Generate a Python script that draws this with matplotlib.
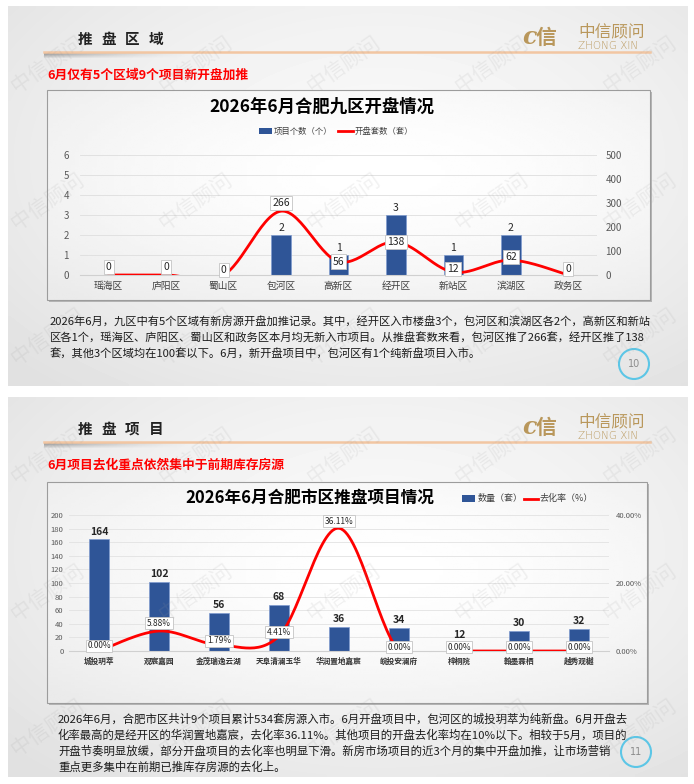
import numpy as np
import matplotlib.pyplot as plt
from matplotlib.patches import Rectangle, Circle

plt.rcParams['font.family'] = ['Noto Sans CJK SC', 'DejaVu Sans']

W, H = 694, 784

# slide 10: districts
districts = ['瑶海区', '庐阳区', '蜀山区', '包河区', '高新区', '经开区', '新站区', '滨湖区', '政务区']
district_projects = [0, 0, 0, 2, 1, 3, 1, 2, 0]
district_units = [0, 0, 0, 266, 56, 138, 12, 62, 0]

# slide 11: projects
projects = ['城投玥萃', '观宸嘉园', '金茂瑞逸云湖', '天阜清澜玉华', '华润置地嘉宸',
            '皖投安澜府', '梓桐院', '翰墨霖栖', '越秀观樾']
project_units = [164, 102, 56, 68, 36, 34, 12, 30, 32]
project_rates = [0.00, 5.88, 1.79, 4.41, 36.11, 0.00, 0.00, 0.00, 0.00]

para1 = [
    "2026年6月，九区中有5个区域有新房源开盘加推记录。其中，经开区入市楼盘3个，包河区和滨湖区各2个，高新区和新站",
    "区各1个，瑶海区、庐阳区、蜀山区和政务区本月均无新入市项目。从推盘套数来看，包河区推了266套，经开区推了138",
    "套，其他3个区域均在100套以下。6月，新开盘项目中，包河区有1个纯新盘项目入市。",
]
para2 = [
    "2026年6月，合肥市区共计9个项目累计534套房源入市。6月开盘项目中，包河区的城投玥萃为纯新盘。6月开盘去",
    "化率最高的是经开区的华润置地嘉宸，去化率36.11%。其他项目的开盘去化率均在10%以下。相较于5月，项目的",
    "开盘节奏明显放缓，部分开盘项目的去化率也明显下滑。新房市场项目的近3个月的集中开盘加推，让市场营销",
    "重点更多集中在前期已推库存房源的去化上。",
]

BLUE = '#2f5597'
RED = '#ff0000'
GOLD = '#b9975b'


def px_box(x0, y0, x1, y1):
    return [x0 / W, 1 - y1 / H, (x1 - x0) / W, (y1 - y0) / H]


def smooth(xs, ys, n=30):
    # bezier smoothing, same idea as excel's "smoothed line"
    p = np.column_stack([xs, ys]).astype(float)
    p = np.vstack([p[0], p, p[-1]])
    t = np.linspace(0, 1, n)[:, None]
    out = []
    for i in range(1, len(p) - 2):
        a, b = p[i], p[i + 1]
        c1 = a + (p[i + 1] - p[i - 1]) / 6
        c2 = b - (p[i + 2] - p[i]) / 6
        seg = (1 - t) ** 3 * a + 3 * (1 - t) ** 2 * t * c1 + 3 * (1 - t) * t ** 2 * c2 + t ** 3 * b
        out.append(seg if i == 1 else seg[1:])
    out = np.vstack(out)
    return out[:, 0], out[:, 1]


def gray_panel(ax, x0, y0, x1, y1, lo, hi, z=0):
    yy, xx = np.mgrid[0:1:80j, 0:1:140j]
    d = np.sqrt(((xx - 0.55) / 0.75) ** 2 + ((yy - 0.4) / 0.8) ** 2)
    v = hi - (hi - lo) * np.clip(d, 0, 1) ** 1.6
    ax.imshow(v, cmap='gray', vmin=0, vmax=1, extent=(x0, x1, y1, y0),
              aspect='auto', zorder=z, interpolation='bilinear')


def header(ax, top, title, subtitle):
    for k, ch in enumerate(title):
        ax.text(78 + k * 23.5, top + 33, ch, fontsize=10.5, fontweight='bold',
                color='#222222', va='center')
    ax.plot([44, 650], [top + 46, top + 46], color='#f2c6a2', lw=1.8, zorder=2)
    sh = np.zeros((6, 120, 4))
    fx = np.linspace(1, 0, 120) ** 1.5
    fy = np.linspace(1, 0, 6)[:, None]
    sh[..., 3] = 0.35 * fx * fy
    ax.imshow(sh, extent=(44, 200, top + 53, top + 47), aspect='auto', zorder=1)
    ax.text(522, top + 31, 'c', fontsize=17, fontstyle='italic', fontweight='bold',
            color=GOLD, va='center', family='DejaVu Serif')
    ax.text(536, top + 31, '信', fontsize=15, fontweight='bold', color=GOLD, va='center')
    ax.text(578, top + 26, '中信顾问', fontsize=12, color=GOLD, va='center')
    ax.text(578, top + 40, 'ZHONG XIN', fontsize=7.5, color=GOLD, va='center',
            family='DejaVu Sans', fontweight='light')
    ax.text(47, top + 69, subtitle, fontsize=9.2, fontweight='bold', color='#ff0000', va='center')


def chart_box(ax, x0, y0, x1, y1):
    ax.add_patch(Rectangle((x0 + 2, y0 + 2), x1 - x0, y1 - y0, fc='#b5b5b5', ec='none', zorder=1))
    gray_panel(ax, x0, y0, x1, y1, 0.92, 1.0, z=2)
    ax.add_patch(Rectangle((x0, y0), x1 - x0, y1 - y0, fill=False, ec='#9c9c9c', lw=0.8, zorder=3))


fig = plt.figure(figsize=(W / 100, H / 100), dpi=100)
fig.patch.set_facecolor('white')
bg = fig.add_axes([0, 0, 1, 1], zorder=0)

# slide panels
gray_panel(bg, 8, 6, 688, 386, 0.88, 0.975)
gray_panel(bg, 8, 397, 688, 777, 0.88, 0.975)

header(bg, 6, '推盘区域', '6月仅有5个区域9个项目新开盘加推')
header(bg, 396, '推盘项目', '6月项目去化重点依然集中于前期库存房源')

chart_box(bg, 47, 90, 650, 300)
chart_box(bg, 47, 482, 647, 703)

# chart 1 title + legend
bg.text(322, 107, '2026年6月合肥九区开盘情况', fontsize=12.5, fontweight='bold',
        ha='center', va='center', zorder=4)
bg.add_patch(Rectangle((259, 128), 13, 6, fc=BLUE, ec='none', zorder=4))
bg.text(274, 131, '项目个数（个）', fontsize=6, color='#404040', va='center', zorder=4)
bg.plot([338, 353], [131, 131], color=RED, lw=2, zorder=4)
bg.text(355, 131, '开盘套数（套）', fontsize=6, color='#404040', va='center', zorder=4)

# chart 2 title + legend
bg.text(310, 498, '2026年6月合肥市区推盘项目情况', fontsize=12, fontweight='bold',
        ha='center', va='center', zorder=4)
bg.add_patch(Rectangle((462, 495), 13, 7, fc=BLUE, ec='none', zorder=4))
bg.text(478, 498.5, '数量（套）', fontsize=6.5, color='#404040', va='center', zorder=4)
bg.plot([524, 538], [498.5, 498.5], color=RED, lw=2, zorder=4)
bg.text(540, 498.5, '去化率（%）', fontsize=6.5, color='#404040', va='center', zorder=4)

# paragraphs
for i, line in enumerate(para1):
    bg.text(50, 322 + i * 16, line, fontsize=8.1, color='#1a1a1a', va='center')
for i, line in enumerate(para2):
    bg.text(58, 719 + i * 16, line, fontsize=8.2, color='#1a1a1a', va='center')

# page numbers
for cx, cy, num in [(634, 364, '10'), (636, 752, '11')]:
    bg.add_patch(Circle((cx, cy), 15, fill=False, ec='#5cc6e6', lw=1.5, zorder=4))
    bg.text(cx, cy, num, fontsize=7, color='#8c8c8c', ha='center', va='center',
            family='DejaVu Sans', zorder=4)

bg.set_xlim(0, W)
bg.set_ylim(H, 0)
bg.axis('off')

# ---- chart 1 ----
x = np.arange(len(districts))
ax1 = fig.add_axes(px_box(80, 155, 597, 275), zorder=2)
ax1.set_facecolor('none')
ax1.bar(x, district_projects, width=0.34, color=BLUE, edgecolor='#7f9bd0', lw=0.5, zorder=2)
for xi, v in zip(x, district_projects):
    if v == 0:
        continue  # hidden behind the line's label
    ax1.annotate(str(v), (xi, v), xytext=(0, 1.5), textcoords='offset points',
                 ha='center', va='bottom', fontsize=7.5, color='#262626')
ax1.set_xlim(-0.5, len(x) - 0.5)
ax1.set_ylim(0, 6)
ax1.set_yticks(range(0, 7))
ax1.yaxis.grid(True, color='#dedede', lw=0.6)
ax1.set_axisbelow(True)
ax1.set_xticks(x)
ax1.set_xticklabels(districts, fontsize=7, color='#404040')
ax1.tick_params(axis='both', length=0, labelsize=7, labelcolor='#595959')
ax1.tick_params(axis='x', pad=4, labelcolor='#404040')
ax1.tick_params(axis='y', pad=8)
for s in ['top', 'left', 'right']:
    ax1.spines[s].set_visible(False)
ax1.spines['bottom'].set_color('#d0d0d0')

ax1r = ax1.twinx()
ax1r.set_ylim(0, 500)
ax1r.set_yticks(range(0, 501, 100))
ax1r.tick_params(length=0, labelsize=7, labelcolor='#595959', pad=6)
for s in ax1r.spines.values():
    s.set_visible(False)
sx, sy = smooth(x, district_units)
ax1r.plot(sx, sy, color=RED, lw=2, zorder=3)
up1 = [8, 8, 5, 8, 0, 0, 3, 3, 6]
for xi, v, dy in zip(x, district_units, up1):
    ax1r.annotate(str(v), (xi, v), xytext=(0, dy * 0.72), textcoords='offset points',
                  ha='center', va='center', fontsize=7.5, color='#262626', zorder=5,
                  bbox=dict(boxstyle='square,pad=0.2', fc='white', ec='#c4c4c4', lw=0.6),
                  annotation_clip=False)

# ---- chart 2 ----
x2 = np.arange(len(projects))
ax2 = fig.add_axes(px_box(69, 515, 609, 651), zorder=2)
ax2.set_facecolor('none')
ax2.bar(x2, project_units, width=0.34, color=BLUE, edgecolor='#7f9bd0', lw=0.5, zorder=2)
for xi, v in zip(x2, project_units):
    ax2.annotate(str(v), (xi, v), xytext=(0, 2), textcoords='offset points',
                 ha='center', va='bottom', fontsize=7.5, fontweight='bold', color='#262626')
ax2.set_xlim(-0.5, len(x2) - 0.5)
ax2.set_ylim(0, 200)
ax2.set_yticks(range(0, 201, 20))
ax2.yaxis.grid(True, color='#e2e2e2', lw=0.6)
ax2.set_axisbelow(True)
ax2.set_xticks(x2)
ax2.set_xticklabels(projects, fontsize=5.8, fontweight='bold', color='#333333')
ax2.tick_params(axis='both', length=0, labelsize=5.5, labelcolor='#595959')
ax2.tick_params(axis='x', pad=4, labelcolor='#333333')
ax2.tick_params(axis='y', pad=4)
for s in ['top', 'left', 'right']:
    ax2.spines[s].set_visible(False)
ax2.spines['bottom'].set_color('#d0d0d0')

ax2r = ax2.twinx()
ax2r.set_ylim(0, 40)
ax2r.set_yticks([0, 20, 40])
ax2r.set_yticklabels([f'{v:.2f}%' for v in [0, 20, 40]])
ax2r.tick_params(length=0, labelsize=5.5, labelcolor='#595959', pad=5)
for s in ax2r.spines.values():
    s.set_visible(False)
sx2, sy2 = smooth(x2, project_rates)
ax2r.plot(sx2, sy2, color=RED, lw=2, zorder=3)
up2 = [5, 8, 4, 4, 7, 4, 4, 4, 4]
for xi, v, dy in zip(x2, project_rates, up2):
    ax2r.annotate(f'{v:.2f}%', (xi, v), xytext=(0, dy * 0.72), textcoords='offset points',
                  ha='center', va='center', fontsize=6, color='#262626', zorder=5,
                  bbox=dict(boxstyle='square,pad=0.2', fc='white', ec='#c4c4c4', lw=0.6),
                  annotation_clip=False)

# watermarks
wm = fig.add_axes([0, 0, 1, 1], zorder=10)
wm.set_facecolor('none')
for top in [6, 397]:
    for ry in [58, 195, 330]:
        for cx in [48, 196, 344, 492, 640]:
            wm.text(cx, top + ry, '中信顾问', fontsize=15, rotation=35, color='#9a9a9a',
                    alpha=0.13, ha='center', va='center')
wm.set_xlim(0, W)
wm.set_ylim(H, 0)
wm.axis('off')

fig.savefig('out.png', dpi=100)
